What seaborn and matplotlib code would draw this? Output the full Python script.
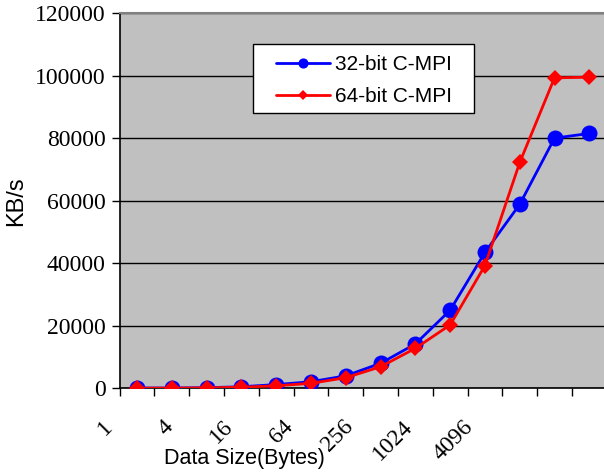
import numpy as np
import pandas as pd
import matplotlib
matplotlib.use("Agg")
import matplotlib.pyplot as plt
import matplotlib.transforms as mtransforms
from matplotlib.patches import Rectangle
import seaborn as sns

sizes = [1, 2, 4, 8, 16, 32, 64, 128, 256, 512, 1024, 2048, 4096, 8192]
kb32 = [100, 100, 200, 500, 1200, 2100, 4000, 8000, 14200, 25000, 43500, 58900, 80100, 81600]
kb64 = [50, 60, 150, 350, 800, 1600, 3400, 6900, 12800, 20300, 39300, 72300, 99400, 99600]
tick_labels = ["1", "4", "16", "64", "256", "1024", "4096"]
series_names = ["32-bit C-MPI", "64-bit C-MPI"]

df = pd.DataFrame({
    "idx": list(range(len(sizes))) * 2,
    "val": kb32 + kb64,
    "series": [series_names[0]] * len(sizes) + [series_names[1]] * len(sizes),
})

sns.set_style("white")
plt.rcParams.update({"text.color": "black", "axes.labelcolor": "black",
                     "xtick.color": "black", "ytick.color": "black"})
fig = plt.figure(figsize=(6.04, 4.72), dpi=100)
ax = fig.add_axes([0.198, 0.1773, 0.8065, 0.7941])
ax.set_facecolor("#C0C0C0")

sns.lineplot(data=df, x="idx", y="val", hue="series", style="series",
             markers={series_names[0]: "o", series_names[1]: "D"}, dashes=False,
             palette={series_names[0]: "#0000FF", series_names[1]: "#FF0000"},
             linewidth=2.0, markersize=11.5, markeredgewidth=0, ax=ax, zorder=3)
for ln in ax.lines:
    if ln.get_marker() == "D":
        ln.set_markersize(8.6)
    elif ln.get_marker() == "o":
        ln.set_markersize(11.5)

ax.set_ylim(0, 120000)
ax.set_yticks(np.arange(0, 120001, 20000))
ax.set_yticklabels([str(v) for v in range(0, 120001, 20000)],
                   fontfamily="Liberation Serif", fontsize=17)
ax.yaxis.grid(True, color="black", linewidth=1.0)
ax.set_axisbelow(True)

# tick marks between categories, labels on every other category
ax.set_xticks(np.arange(-0.5, len(sizes), 1.0), minor=True)
ax.set_xticks(np.arange(0, len(sizes) - 1, 2))
ax.set_xticklabels(tick_labels, rotation=45, ha="right", rotation_mode="anchor",
                   fontfamily="Liberation Serif", fontsize=17)
ax.set_xlim(-0.5, len(sizes) - 0.5)
ax.tick_params(axis="x", which="major", length=0, pad=20)
ax.tick_params(axis="x", which="minor", length=6, width=1, color="black", direction="out", bottom=True)
ax.tick_params(axis="y", length=6, width=1, color="black", direction="out", left=True, pad=4)

# shift rotated labels to match the reference placement
for i, lab in enumerate(ax.get_xticklabels()):
    dx = (-34.7 - 9.6 * i) / 100.0
    lab.set_transform(lab.get_transform() + mtransforms.ScaledTranslation(dx, 0, fig.dpi_scale_trans))

for s in ["left", "bottom"]:
    ax.spines[s].set_color("black")
    ax.spines[s].set_linewidth(1.2)
ax.spines["top"].set_color("#808080")
ax.spines["top"].set_linewidth(1.5)
ax.spines["right"].set_visible(False)

ax.set_xlabel("Data Size(Bytes)", fontfamily="Liberation Sans", fontsize=15.5)
ax.xaxis.set_label_coords(0.2555, -0.160)
ax.set_ylabel("KB/s", fontfamily="Liberation Sans", fontsize=17, labelpad=6)

# legend box
ax.add_patch(Rectangle((0.274, 0.7345), 0.4536, 0.1841, transform=ax.transAxes,
                       facecolor="white", edgecolor="black", linewidth=1.0, zorder=4))
leg = ax.legend(loc="upper left", bbox_to_anchor=(0.3212, 0.889), frameon=False,
                prop={"family": "Liberation Sans", "size": 15}, handlelength=2.6,
                handletextpad=0.25, borderpad=0, labelspacing=0.64, borderaxespad=0)
leg.set_zorder(5)
for h in leg.legend_handles:
    if h.get_marker() == "D":
        h.set_markersize(5.2)
    else:
        h.set_markersize(7.3)

fig.savefig("out.png", dpi=100)
